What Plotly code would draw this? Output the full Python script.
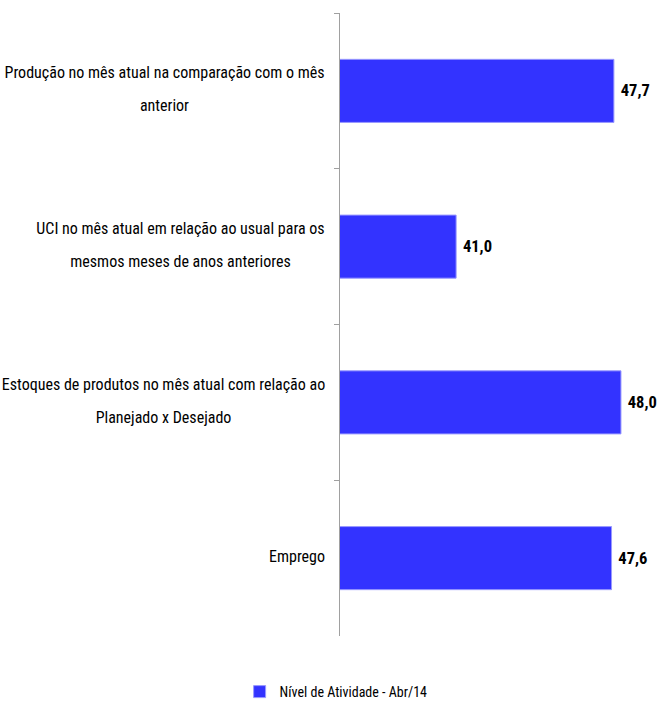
import plotly.graph_objects as go

categories = [
    "Produção no mês atual na comparação com o mês<br>anterior",
    "UCI no mês atual em relação ao usual para os<br>mesmos meses de anos anteriores",
    "Estoques de produtos no mês atual com relação ao<br>Planejado x Desejado",
    "Emprego",
]
values = [47.7, 41.0, 48.0, 47.6]
series_name = "Nível de Atividade - Abr/14"

FONT = "Roboto Condensed"
LABEL_SIZE = 16
LINE_STEP = 33
# box widths for the centred two-line labels (widest line + a little room)
LABEL_BOX = [325, 293, 327, None]

fig = go.Figure()
fig.add_trace(go.Bar(
    y=categories,
    x=values,
    orientation="h",
    name=series_name,
    marker=dict(color="#3333FF", line=dict(color="#9999FF", width=1)),
    text=values,
    texttemplate=" %{x:.1f}",
    textposition="outside",
    cliponaxis=False,
    textfont=dict(family=FONT, size=16.5, color="#000000", weight="bold"),
))

for c, w in zip(categories, LABEL_BOX):
    lines = c.split("<br>")
    n = len(lines)
    for i, line in enumerate(lines):
        fig.add_annotation(
            x=0, xref="paper", y=c, yref="y", xshift=-11 if w else -13,
            yshift=((n - 1) / 2 - i) * LINE_STEP + 1.5,
            text=line, showarrow=False, xanchor="right", yanchor="middle",
            align="center", width=w,
            font=dict(family=FONT, size=LABEL_SIZE, color="#000000"),
        )

fig.update_layout(
    width=661, height=706,
    margin=dict(l=340, r=0, t=13, b=70),
    paper_bgcolor="white", plot_bgcolor="white",
    separators=",.",
    bargap=0.595,
    showlegend=True,
    legend=dict(orientation="h", xref="container", x=0.3625, xanchor="left",
                yref="container", y=0.0198, yanchor="middle",
                font=dict(family=FONT, size=14, color="#000000")),
    xaxis=dict(range=[36.07, 49.70], visible=False, showgrid=False, zeroline=False),
    yaxis=dict(autorange="reversed", showticklabels=False, showgrid=False,
               showline=True, linecolor="#A0A0A0", linewidth=1,
               ticks="outside", tickson="boundaries", ticklen=5,
               tickcolor="#A0A0A0", zeroline=False),
)

fig.write_html(
    "out.html",
    config={"displayModeBar": False},
    post_script="document.body.style.margin='0';document.body.style.overflow='hidden';",
)
